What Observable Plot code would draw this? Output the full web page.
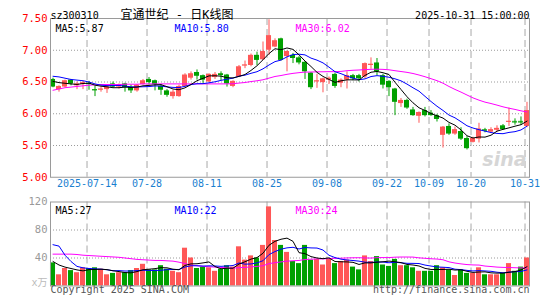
<!DOCTYPE html>
<html><head><meta charset="utf-8">
<script src="https://cdn.jsdelivr.net/npm/d3@7"></script>
<script src="https://cdn.jsdelivr.net/npm/@observablehq/plot@0.6"></script>
<style>
html,body{margin:0;padding:0;background:#fff;}
#chart{width:545px;height:300px;position:relative;overflow:hidden;background:#fff;}
#chart svg{display:block;}
</style></head><body><div id="chart"></div>
<script>
// ---- daily K-line data (80 trading days, 2025-07-04 .. 2025-10-31) ----
const opens = [6.54,6.38,6.42,6.53,6.44,6.46,6.48,6.38,6.37,6.38,
  6.47,6.42,6.47,6.41,6.36,6.46,6.54,6.52,6.43,6.36,
  6.27,6.27,6.43,6.56,6.65,6.60,6.50,6.57,6.63,6.61,
  6.43,6.58,6.75,6.76,6.92,6.85,7.00,7.05,7.18,6.90,
  6.92,6.88,6.81,6.64,6.50,6.49,6.53,6.62,6.48,6.53,
  6.60,6.60,6.58,6.76,6.80,6.60,6.51,6.39,6.16,6.21,
  6.06,5.96,6.05,6.01,5.97,5.66,5.80,5.68,5.72,5.61,
  5.55,5.60,5.75,5.71,5.74,5.81,5.87,5.88,5.88,5.80];
const closes = [6.42,6.43,6.52,6.47,6.47,6.49,6.46,6.36,6.39,6.42,
  6.42,6.46,6.41,6.36,6.45,6.52,6.49,6.46,6.37,6.29,
  6.34,6.43,6.61,6.63,6.59,6.53,6.62,6.62,6.60,6.47,
  6.51,6.74,6.77,6.92,6.84,6.98,7.23,7.15,6.84,6.98,
  6.87,6.80,6.66,6.41,6.52,6.55,6.56,6.43,6.53,6.60,
  6.55,6.55,6.79,6.78,6.66,6.45,6.41,6.18,6.21,6.09,
  5.97,6.02,5.97,5.97,5.91,5.79,5.68,5.75,5.60,5.45,
  5.61,5.76,5.74,5.75,5.77,5.75,5.88,5.87,5.87,6.05];
const highs = [6.56,6.44,6.53,6.54,6.50,6.51,6.51,6.43,6.42,6.45,
  6.50,6.47,6.48,6.45,6.46,6.54,6.57,6.53,6.46,6.38,
  6.37,6.45,6.63,6.66,6.69,6.61,6.63,6.65,6.66,6.62,
  6.52,6.76,6.83,6.94,6.97,7.13,7.48,7.18,7.19,6.99,
  6.95,6.90,6.82,6.65,6.62,6.56,6.58,6.64,6.55,6.66,
  6.62,6.62,6.80,6.88,6.87,6.62,6.52,6.40,6.24,6.23,
  6.10,6.03,6.10,6.05,5.99,5.80,5.84,5.79,5.78,5.64,
  5.63,5.85,5.77,5.78,5.81,5.83,6.09,5.92,5.95,6.18];
const lows = [6.41,6.34,6.41,6.44,6.38,6.38,6.37,6.27,6.34,6.32,
  6.40,6.39,6.34,6.32,6.34,6.45,6.45,6.36,6.29,6.26,
  6.23,6.26,6.42,6.53,6.53,6.48,6.49,6.54,6.52,6.42,
  6.41,6.57,6.71,6.74,6.76,6.84,6.92,7.04,6.83,6.66,
  6.79,6.77,6.54,6.38,6.40,6.33,6.46,6.40,6.41,6.39,
  6.52,6.50,6.55,6.70,6.60,6.39,6.27,5.97,6.10,6.07,
  5.96,5.85,5.95,5.96,5.87,5.46,5.66,5.66,5.58,5.43,
  5.54,5.54,5.70,5.69,5.71,5.74,5.80,5.82,5.82,5.78];
const ma5 = [6.51,6.49,6.48,6.47,6.462,6.476,6.482,6.45,6.434,6.424,
  6.41,6.41,6.42,6.414,6.42,6.44,6.446,6.456,6.458,6.426,
  6.39,6.378,6.408,6.46,6.52,6.558,6.596,6.598,6.592,6.568,
  6.564,6.588,6.618,6.682,6.756,6.85,6.948,7.024,7.008,7.036,
  7.014,6.928,6.83,6.744,6.652,6.588,6.54,6.494,6.518,6.534,
  6.534,6.532,6.604,6.654,6.666,6.646,6.618,6.496,6.382,6.268,
  6.172,6.094,6.052,6.004,5.968,5.932,5.864,5.82,5.746,5.654,
  5.618,5.634,5.632,5.662,5.726,5.754,5.778,5.804,5.828,5.884];
const ma10 = [6.59,6.58,6.56,6.54,6.53,6.52,6.50,6.47,6.45,6.443,
  6.443,6.446,6.435,6.424,6.422,6.425,6.428,6.438,6.436,6.423,
  6.415,6.412,6.432,6.459,6.473,6.474,6.487,6.503,6.526,6.544,
  6.561,6.592,6.608,6.637,6.662,6.707,6.768,6.821,6.845,6.896,
  6.932,6.938,6.927,6.876,6.844,6.801,6.734,6.662,6.631,6.593,
  6.561,6.536,6.549,6.586,6.600,6.590,6.575,6.550,6.518,6.467,
  6.409,6.356,6.274,6.193,6.118,6.052,5.979,5.936,5.875,5.811,
  5.775,5.749,5.726,5.704,5.690,5.686,5.706,5.718,5.745,5.805];
const ma30 = [6.37,6.39,6.41,6.42,6.43,6.44,6.45,6.455,6.46,6.46,
  6.46,6.46,6.465,6.465,6.465,6.47,6.47,6.47,6.47,6.47,
  6.47,6.47,6.47,6.47,6.47,6.47,6.47,6.47,6.47,6.47,
  6.473,6.483,6.492,6.507,6.519,6.535,6.561,6.587,6.602,6.621,
  6.636,6.647,6.656,6.657,6.660,6.661,6.663,6.662,6.667,6.678,
  6.685,6.689,6.695,6.700,6.702,6.699,6.692,6.678,6.665,6.652,
  6.634,6.610,6.583,6.552,6.521,6.481,6.429,6.383,6.341,6.295,
  6.250,6.214,6.183,6.161,6.136,6.109,6.087,6.068,6.046,6.028];
const volumes = [33,16,25,22,19,26,25,26,24,16,
  18,19,19,22,25,31,23,23,29,24,
  21,19,54,40,25,27,26,21,24,29,
  27,56,37,43,40,58,113,65,58,48,
  35,32,58,37,38,30,38,32,35,37,
  27,23,43,35,42,30,28,38,29,29,
  26,21,21,21,29,26,23,15,23,18,
  18,26,16,16,16,18,32,21,27,40];
const vma5 = [35,30,27,25,23,21.6,23.4,23.6,24,23.4,
  21.8,20.6,19.2,18.8,20.6,23.2,24,24.8,26.2,26,
  24,23.2,29.4,31.6,31.8,33,34.4,27.8,24.6,25.4,
  25.4,31.4,34.6,38.4,40.6,46.8,58.2,63.8,66.8,68.4,
  63.8,47.6,46.2,42,40,39,40.2,35,34.6,34.4,
  33.8,30.8,33,33,34,34.6,35.6,34.6,33.4,30.8,
  30,28.6,25.2,23.6,23.6,23.6,24,22.8,23.2,21,
  19.4,20,20.2,18.8,18.4,18.4,19.6,20.6,22.8,27.6];
const vma10 = [59,57,44,35,28,26,25,24.5,24,23.2,
  21.7,22,21.4,21.4,22,22.5,22.3,22,22.5,23.3,
  23.6,23.6,27.1,28.9,28.9,28.5,28.8,28.6,28.1,28.6,
  29.2,32.9,31.2,31.5,33,36.1,44.8,49.2,52.6,54.5,
  55.3,52.9,55,54.4,54.2,51.4,43.9,40.6,38.3,37.2,
  36.4,35.5,34,33.8,34.2,34.2,33.2,33.8,33.2,32.4,
  32.3,32.1,29.9,28.5,27.2,26.8,26.3,24,23.4,22.3,
  21.5,22,21.5,21,19.7,18.9,19.8,20.4,20.8,23.0];
const vma30 = [45.5,45.5,45.5,45.5,45,44,43.5,43,42.5,42,
  41.5,41,40,39,38,37.5,37,36.5,36.5,36,
  35.5,34,32,30,29,28,27.5,27,26.5,26,
  25.5,26.2,26.6,27.3,28,29,32,33.3,34.4,35.5,
  36,36.5,37.8,38.3,38.7,38.7,39.2,39.5,39.7,40.1,
  40.3,40.4,40.1,39.9,40.5,40.6,40.6,41.2,41.4,41.4,
  41.3,40.2,39.6,38.9,38.5,37.5,34.5,32.8,31.6,30.6,
  30.1,29.9,28.5,27.8,27,26.6,26.4,26.1,25.8,25.9];

// ---- axis / label data ----
const tickIndex = [6,16,26,36,46,56,63,70,79];
const tickLabels = ["2025-07-14","07-28","08-11","08-25","09-08","09-22","10-09","10-20","10-31"];
const priceTicks = [5,5.5,6,6.5,7,7.5];
const priceGrid = [5.5,6,6.5,7];
const volTicks = [40,80,120];
const volGrid = [40,80];
const priceLegend = ["MA5:5.87","MA10:5.80","MA30:6.02"];
const volLegend = ["MA5:27","MA10:22","MA30:24"];
const symbol = "sz300310";
const title = "宜通世纪 - 日K线图";
const stamp = "2025-10-31 15:00:00";
const footLeft = "Copyright 2025 SINA.COM";
const footRight = "http://finance.sina.com.cn";

// ---- styles ----
const RED = "#ff5757", GREEN = "#00a000";
const lineColors = ["#000000", "#0000ff", "#ff00ff"]; // MA5, MA10, MA30
const legendDx = [5, 124, 245];
const mono = "'DejaVu Sans Mono', monospace";
const FS = 10;
const xDomain = [-0.4167, 79.4167];
const gridX = tickIndex.map(t => t - 0.33);
const half = 0.42;

const days = closes.map((c, i) => ({
  i, open: opens[i], high: highs[i], low: lows[i], close: c,
  vol: volumes[i], up: c >= opens[i],
  ma5: ma5[i], ma10: ma10[i], ma30: ma30[i],
  vma5: vma5[i], vma10: vma10[i], vma30: vma30[i]
}));
const col = d => d.up ? RED : GREEN;

const dotted = {stroke: "#9a9a9a", strokeDasharray: "1,2"};
const dashed = {stroke: "#a8a8a8", strokeDasharray: "7,4"};

// keys in order [MA5, MA10, MA30]; drawn MA30 first so MA5 is on top
function maLines(keys) {
  return [2, 1, 0].map(j => Plot.line(days, {x: "i", y: keys[j], stroke: lineColors[j], strokeWidth: 1}));
}
function legends(texts, dy) {
  return texts.map((t, k) => Plot.text([t], {text: d => d, frameAnchor: "top-left", dx: legendDx[k], dy,
    textAnchor: "start", fill: lineColors[k], fontSize: FS, fontFamily: mono}));
}

const pricePlot = Plot.plot({
  width: 545, height: 195,
  marginLeft: 50, marginRight: 16, marginTop: 18, marginBottom: 18.25,
  x: {domain: xDomain, axis: null},
  y: {domain: [5, 7.5], axis: null},
  style: {fontFamily: mono, fontSize: FS + "px", background: "white", overflow: "visible"},
  marks: [
    Plot.ruleY(priceGrid, {y: d => d, ...dotted}),
    Plot.ruleX(gridX, {x: d => d, ...dashed}),
    Plot.text(["sina"], {text: d => d, frameAnchor: "bottom-right", dx: -3, dy: -11, textAnchor: "end",
      fontSize: 19, fontStyle: "italic", fontWeight: "bold", fontFamily: "'DejaVu Sans', sans-serif", fill: "#d6d6d6"}),
    Plot.ruleX(days, {x: "i", y1: "low", y2: "high", stroke: col, strokeWidth: 1}),
    Plot.rect(days, {x1: d => d.i - half, x2: d => d.i + half, y1: "open", y2: "close", fill: col}),
    Plot.ruleY(days.filter(d => Math.abs(d.close - d.open) < 0.015),
      {y: "close", x1: d => d.i - half, x2: d => d.i + half, stroke: col, strokeWidth: 1}),
    ...maLines(["ma5", "ma10", "ma30"]),
    Plot.frame({stroke: "#9a9a9a"}),
    Plot.text(priceTicks, {y: d => d, text: d => d.toFixed(2), frameAnchor: "left", dx: -3, textAnchor: "end", fill: "#ff0000", fontSize: 10.5}),
    Plot.text(tickLabels, {x: gridX, text: d => d, frameAnchor: "bottom", dy: 10, fill: "#1a7fd0", fontSize: FS}),
    ...legends(priceLegend, 6),
    Plot.text([symbol], {text: d => d, frameAnchor: "top-left", dx: 0, dy: -7, textAnchor: "start", fill: "#000", fontSize: FS}),
    Plot.text([title], {text: d => d, frameAnchor: "top-left", dx: 70, dy: -8, textAnchor: "start", fill: "#000",
      fontSize: 12, fontFamily: "'DejaVu Sans Mono', 'Noto Sans CJK SC', monospace"}),
    Plot.text([stamp], {text: d => d, frameAnchor: "top-right", dx: 0, dy: -7, textAnchor: "end", fill: "#000", fontSize: FS})
  ]
});

const volPlot = Plot.plot({
  width: 545, height: 105,
  marginLeft: 50, marginRight: 16, marginTop: 6.5, marginBottom: 14.5,
  x: {domain: xDomain, axis: null},
  y: {domain: [0, 120], axis: null},
  style: {fontFamily: mono, fontSize: FS + "px", background: "white", overflow: "visible"},
  marks: [
    Plot.ruleY(volGrid, {y: d => d, ...dotted}),
    Plot.ruleX(gridX, {x: d => d, ...dashed}),
    Plot.rect(days, {x1: d => d.i - half, x2: d => d.i + half, y1: d => 0, y2: "vol", fill: col}),
    ...maLines(["vma5", "vma10", "vma30"]),
    Plot.frame({stroke: "#9a9a9a"}),
    Plot.text(volTicks, {y: d => d, text: d => String(d), frameAnchor: "left", dx: -3, textAnchor: "end", fill: "#999", fontSize: 10.5}),
    Plot.text(["x万"], {text: d => d, frameAnchor: "bottom-left", dx: -3, dy: 0, textAnchor: "end", fill: "#bbb", fontSize: FS,
      fontFamily: "'DejaVu Sans Mono', 'Noto Sans CJK SC', monospace"}),
    ...legends(volLegend, 4.5),
    Plot.text([footLeft], {text: d => d, frameAnchor: "bottom-left", dy: 7, textAnchor: "start", fill: "#555", fontSize: FS}),
    Plot.text([footRight], {text: d => d, frameAnchor: "bottom-right", dy: 7, textAnchor: "end", fill: "#555", fontSize: FS})
  ]
});

const root = document.getElementById("chart");
root.appendChild(pricePlot);
root.appendChild(volPlot);
</script></body></html>
